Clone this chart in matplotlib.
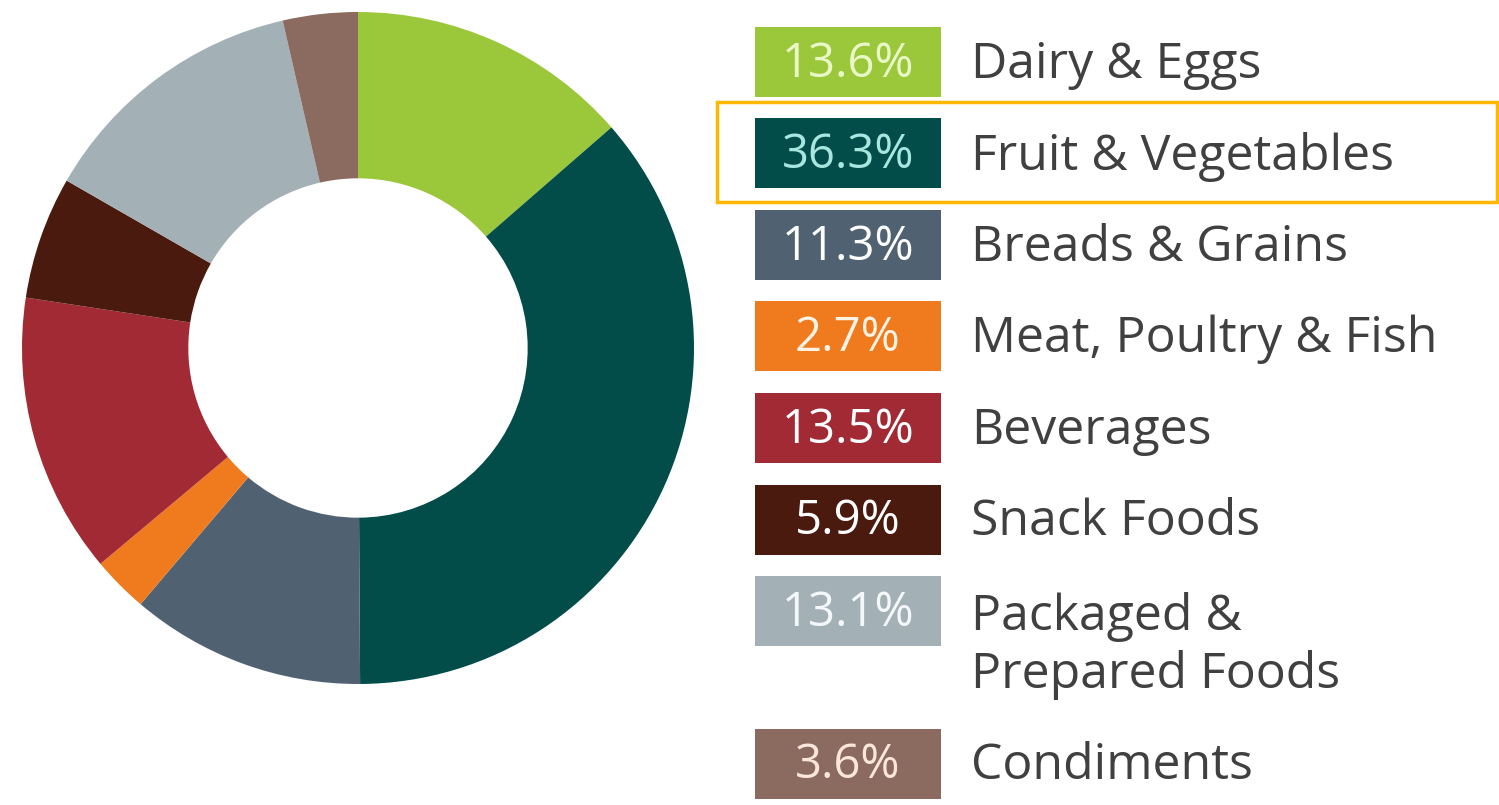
import matplotlib.pyplot as plt
from matplotlib.patches import Rectangle

# ---- data ----
categories = ["Dairy & Eggs", "Fruit & Vegetables", "Breads & Grains",
              "Meat, Poultry & Fish", "Beverages", "Snack Foods",
              "Packaged &\nPrepared Foods", "Condiments"]
shares = [13.6, 36.3, 11.3, 2.7, 13.5, 5.9, 13.1, 3.6]
share_labels = ["13.6%", "36.3%", "11.3%", "2.7%", "13.5%", "5.9%", "13.1%", "3.6%"]
highlighted = "Fruit & Vegetables"

colors = ["#9bc83a", "#024d4a", "#506272", "#f07b1e",
          "#a12a35", "#4a1a0e", "#a3b1b7", "#8b6a60"]
label_colors = ["#eaf8c8", "#a8e6e0", "#ffffff", "#fff3e6",
                "#ffffff", "#ffffff", "#f4f8fa", "#fbe6dc"]

W, H = 1499, 805
fig = plt.figure(figsize=(W / 100, H / 100), dpi=100)
fig.patch.set_facecolor("white")

# ---- donut ----
cx, cy, r = 358, 348, 336
ax = fig.add_axes([(cx - r) / W, (H - cy - r) / H, 2 * r / W, 2 * r / H])
ax.pie(shares, colors=colors, startangle=90, counterclock=False,
       radius=1.0, wedgeprops=dict(width=0.495, linewidth=0))
ax.set_xlim(-1, 1)
ax.set_ylim(-1, 1)
ax.set_aspect("equal")
ax.axis("off")

# ---- legend drawn on a pixel-space overlay ----
lg = fig.add_axes([0, 0, 1, 1])
lg.set_xlim(0, W)
lg.set_ylim(H, 0)
lg.axis("off")

box_x, box_w, box_h = 755, 186, 70
text_x = 971
row_y = 62
step = 91.5
font = "Open Sans"

for i, cat in enumerate(categories):
    lg.add_patch(Rectangle((box_x, row_y - box_h / 2), box_w, box_h,
                           facecolor=colors[i], edgecolor="none"))
    lg.text(box_x + box_w / 2, row_y + 2, share_labels[i], ha="center", va="center",
            fontsize=34, color=label_colors[i], family=font)
    if "\n" in cat:
        lg.text(text_x, row_y + 35, cat, ha="left", va="center", fontsize=36,
                color="#404040", family=font, linespacing=1.22)
    else:
        lg.text(text_x, row_y + 3, cat, ha="left", va="center", fontsize=36,
                color="#404040", family=font)
    if cat == highlighted:
        lg.add_patch(Rectangle((717, row_y - 51), 780, 100, facecolor="none",
                               edgecolor="#ffb800", linewidth=2.5))
    row_y += step + (61 if "\n" in cat else 0)

fig.savefig("out.png", dpi=100, facecolor="white")
